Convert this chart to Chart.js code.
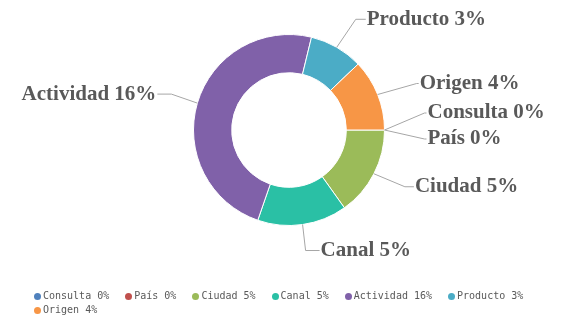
<!DOCTYPE html>
<html>
<head>
<meta charset="utf-8">
<script src="https://cdn.jsdelivr.net/npm/chart.js@4.4.0/dist/chart.umd.min.js"></script>
<style>
  html, body { margin: 0; padding: 0; background: #fff; }
  #wrap { position: relative; width: 562px; height: 318px; }
  #chart { position: absolute; left: 0; top: 0; }
  #legend {
    position: absolute; left: 34px; top: 290px; width: 510px;
    display: flex; flex-wrap: wrap; column-gap: 16px; row-gap: 2px;
    font: 10px "DejaVu Sans Mono", monospace; color: #595959; line-height: 12px;
  }
  #legend span.item { display: flex; align-items: center; white-space: pre; }
  #legend i { display: inline-block; width: 7px; height: 7px; border-radius: 50%; margin-right: 2px; }
</style>
</head>
<body>
<div id="wrap">
  <canvas id="chart" width="562" height="318"></canvas>
  <div id="legend"></div>
</div>
<script>
/* =========================
   DATA
========================= */

const categories = ["Consulta", "País", "Ciudad", "Canal", "Actividad", "Producto", "Origen"];
const percents = [0, 0, 5, 5, 16, 3, 4];
const colors = ["#4f81bd", "#c0504d", "#9bbb59", "#2ac0a5", "#8061a9", "#4bacc6", "#f79646"];

const labelTexts = categories.map((c, i) => `${c} ${percents[i]}%`);

// where each outside label sits, relative to the slice's outer edge
const labelPlacement = [
  { dx: 43, dy: -17, run: 3 },
  { dx: 43, dy: 9, run: 3 },
  { dx: 41, dy: 13, run: 10 },
  { dx: 18, dy: 26, run: 15 },
  { dx: -41, dy: -9, run: 15, left: true },
  { dx: 30, dy: -28, run: 11 },
  { dx: 42, dy: -11, run: 3 }
];


/* =========================
   OUTSIDE LABELS
========================= */

const outerLabels = {
  id: "outerLabels",
  afterDatasetsDraw(chart) {
    const ctx = chart.ctx;
    const meta = chart.getDatasetMeta(0);
    ctx.save();
    ctx.font = 'bold 21px "Liberation Serif"';
    ctx.textBaseline = "middle";
    ctx.strokeStyle = "#a6a6a6";
    ctx.lineWidth = 1;
    ctx.fillStyle = "#595959";

    meta.data.forEach((arc, i) => {
      const { x, y, startAngle, endAngle, outerRadius } =
        arc.getProps(["x", "y", "startAngle", "endAngle", "outerRadius"], true);
      const mid = (startAngle + endAngle) / 2;
      const ex = x + Math.cos(mid) * outerRadius;
      const ey = y + Math.sin(mid) * outerRadius;
      const p = labelPlacement[i];
      const tx = ex + p.dx;
      const ty = ey + p.dy;
      const elbowX = p.left ? tx + p.run : tx - p.run;

      ctx.beginPath();
      ctx.moveTo(ex, ey);
      ctx.lineTo(elbowX, ty);
      ctx.lineTo(p.left ? tx + 1 : tx - 1, ty);
      ctx.stroke();

      ctx.textAlign = p.left ? "right" : "left";
      ctx.fillText(labelTexts[i], tx, ty);
    });
    ctx.restore();
  }
};


/* =========================
   CHART
========================= */

new Chart(document.getElementById("chart"), {
  type: "doughnut",
  data: {
    labels: labelTexts,
    datasets: [{
      data: percents,
      backgroundColor: colors,
      borderColor: "#ffffff",
      borderWidth: 1
    }]
  },
  options: {
    responsive: false,
    animation: false,
    events: [],
    rotation: 90,
    cutout: "60%",
    layout: { padding: { top: 34, bottom: 92, left: 150, right: 134 } },
    plugins: {
      legend: { display: false },
      tooltip: { enabled: false }
    }
  },
  plugins: [outerLabels]
});


/* =========================
   LEGEND
========================= */

const legend = document.getElementById("legend");
labelTexts.forEach((t, i) => {
  const item = document.createElement("span");
  item.className = "item";
  const dot = document.createElement("i");
  dot.style.background = colors[i];
  item.appendChild(dot);
  item.appendChild(document.createTextNode(t));
  legend.appendChild(item);
});
</script>
</body>
</html>
